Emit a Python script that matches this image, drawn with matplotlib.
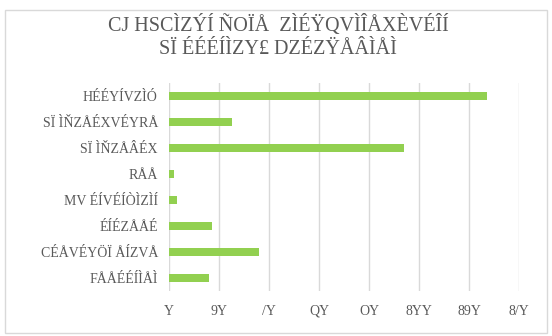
import matplotlib
matplotlib.use("Agg")
import matplotlib.pyplot as plt
from matplotlib.patches import FancyBboxPatch

title_lines = ["CJ HSCÌZÝÍ ÑOÏÅ  ZÌÉŸQVÌÎÅXÈVÉÎÍ", "SÏ ÉÉÉÍÌZY£ DZÉZŸÅÂÌÅÌ"]
categories = ["HÉÉYÍVZÌÓ", "SÏ ÌŇZÅÉXVÉYRÅ", "SÏ ÌŇZÅÂÉX", "RÅÅ",
              "MV ÉÍVÉÍÒÌZÌÍ", "ÉÍÉZÅÅÉ", "CÉÅVÉYÖÏ ÅÍZVÅ", "FÅÅÉÉÍÌÅÌ"]
values = [127, 25, 94, 2, 3, 17, 36, 16]
tick_values = [0, 20, 40, 60, 80, 100, 120, 140]
tick_labels = ["Y", "9Y", "/Y", "QY", "OY", "8YY", "89Y", "8/Y"]

W, H = 552, 336
fig = plt.figure(figsize=(W / 100, H / 100), dpi=100)
fig.patch.set_facecolor("white")

# chart frame
frame = FancyBboxPatch((5 / W, 3 / H), 542 / W, 323 / H, boxstyle="square,pad=0",
                       transform=fig.transFigure, fill=False, edgecolor="#d9d9d9", linewidth=1)
fig.patches.append(frame)

left, right, top, bottom = 169, 519, 83, 291
ax = fig.add_axes([left / W, 1 - bottom / H, (right - left) / W, (bottom - top) / H])

ypos = list(range(len(categories)))
ax.barh(ypos, values, height=0.32, color="#92D050", zorder=3)
ax.set_ylim(len(categories) - 0.5, -0.5)
ax.set_xlim(0, 140)
ax.set_xticks(tick_values)
ax.set_xticklabels(tick_labels)
ax.set_yticks(ypos)
ax.set_yticklabels(categories)

for s in ax.spines.values():
    s.set_visible(False)
ax.grid(axis="x", color="#d9d9d9", linewidth=1, zorder=0)
ax.tick_params(axis="both", length=0, colors="#595959", labelsize=10)
ax.tick_params(axis="y", pad=8)
ax.tick_params(axis="x", pad=10)
for lab in ax.get_xticklabels() + ax.get_yticklabels():
    lab.set_family("Liberation Serif")
    lab.set_color("#595959")

fig.text(278 / W, 1 - 25 / H, title_lines[0], ha="center", va="center",
         fontsize=14.5, color="#595959", family="Liberation Serif")
fig.text(278 / W, 1 - 50 / H, title_lines[1], ha="center", va="center",
         fontsize=14.5, color="#595959", family="Liberation Serif")

fig.savefig("out.png", dpi=100)
